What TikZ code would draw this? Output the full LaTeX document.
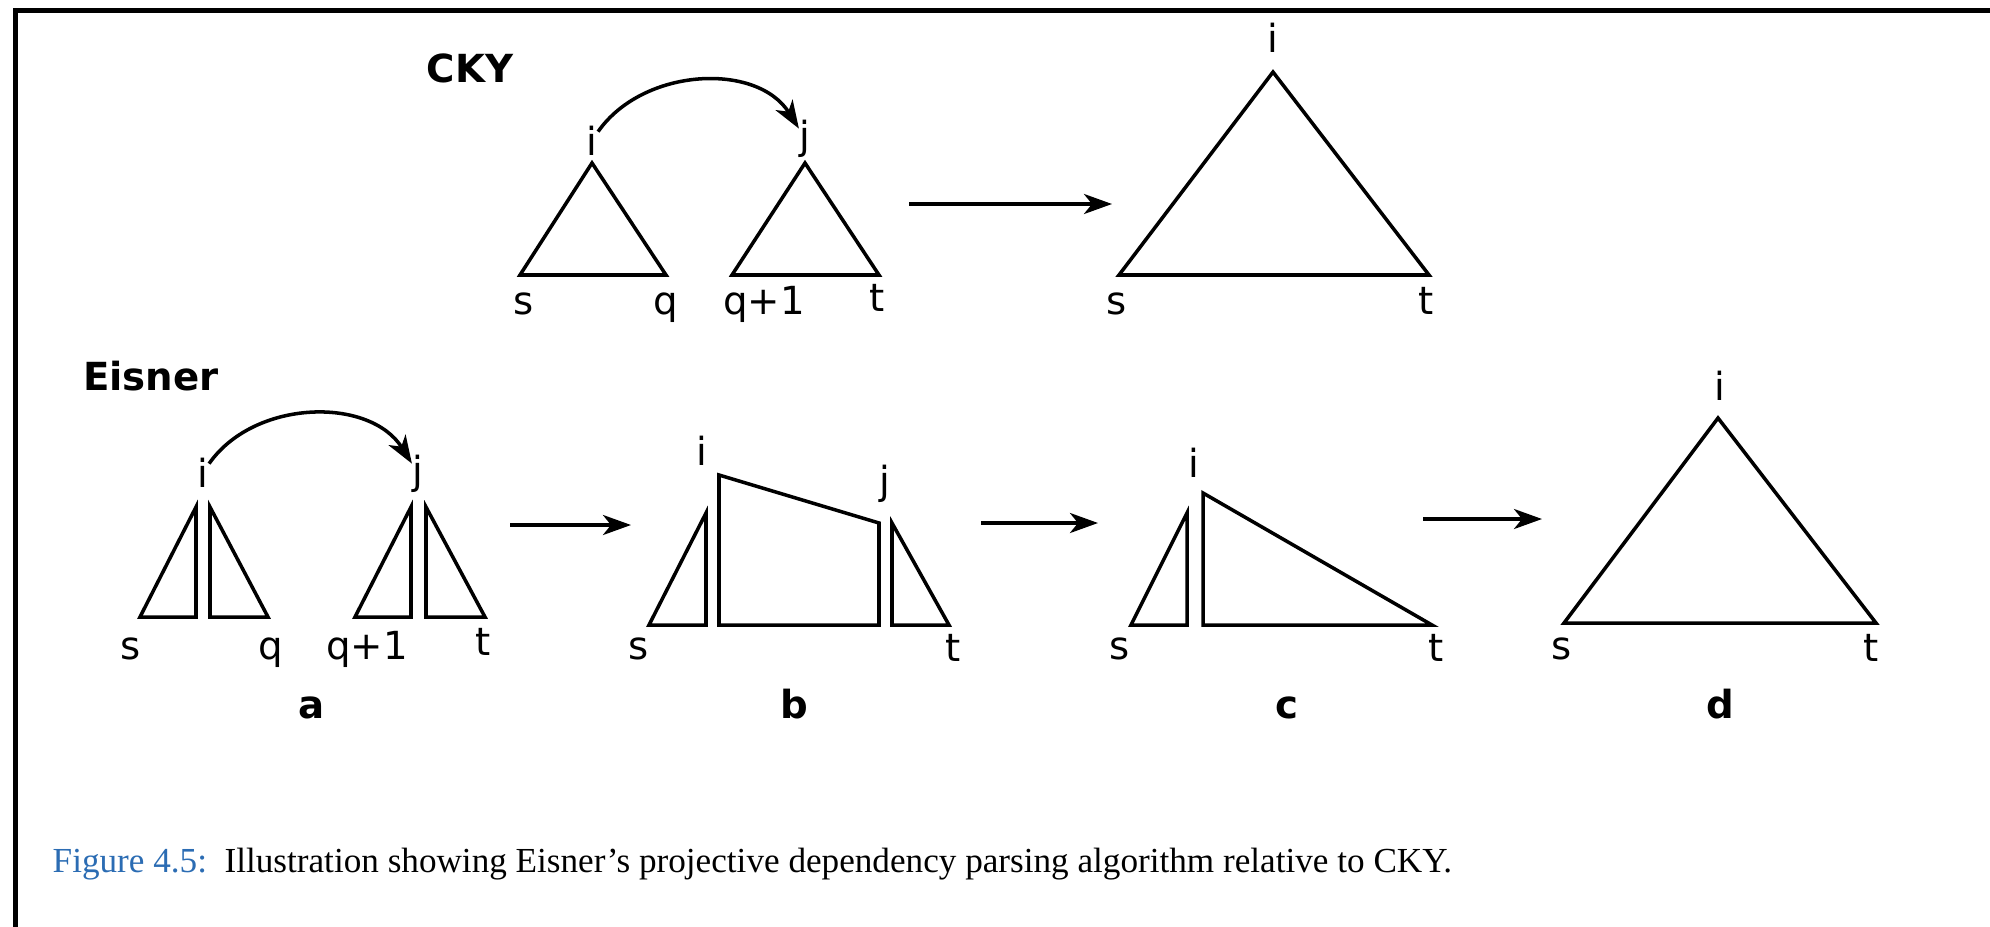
\documentclass[tikz,border=0pt]{standalone}
\usepackage{fontspec}
\setmainfont{Liberation Serif}
\newfontfamily\lblfont{DejaVu Sans}
\usepackage{xcolor}
\usetikzlibrary{arrows.meta,positioning}
\definecolor{capBlue}{HTML}{2B6CB3}

\begin{document}
\begin{tikzpicture}[x=0.01cm, y=-0.01cm,
  tri/.style={draw, line width=1pt, line join=miter},
  lbl/.style={font=\lblfont\fontsize{11}{13}\selectfont, inner sep=0pt, anchor=base},
  head/.style={font=\lblfont\bfseries\fontsize{11}{13}\selectfont, inner sep=0pt, anchor=base},
  arr/.style={-{Stealth[length=2.8mm,width=2mm,inset=0.8mm]}, line width=1pt}]
\useasboundingbox (0,0) rectangle (1990,927);
\draw[line width=0.05cm] (15.5,927) -- (15.5,10.5) -- (1990,10.5);
% CKY
\node[head] (cky) at (470,82) {CKY};
\draw[tri] (520,275) -- (592,163) -- (666,275) -- cycle;
\draw[tri] (732,275) -- (805,163) -- (879,275) -- cycle;
\draw[tri] (1119,275) -- (1273,72) -- (1429,275) -- cycle;
\node[lbl] (ckyI) at (592,155) {i};
\node[lbl] (ckyJ) at (805,149) {j};
\node[lbl] (ckyS) at (524,314) {s};
\node[lbl] (ckyQ) at (666,314) {q};
\node[lbl] (ckyQq) at (764,314) {q+1};
\node[lbl] (ckyT) at (877,311) {t};
\node[lbl] (topI) at (1273,52) {i};
\node[lbl] (topS) at (1117,314) {s};
\node[lbl] (topT) at (1426,314) {t};
\draw[arr] (ckyI) to[out=55, in=122] (ckyJ);
\coordinate (ckyL) at (909,204);
\coordinate (ckyR) at (1112,204);
% Eisner
\node[head] (eis) at (151,390) {Eisner};
\draw[tri] (140,617) -- (196,617) -- (196,507) -- cycle;
\draw[tri] (210,507) -- (210,617) -- (268,617) -- cycle;
\draw[tri] (355,617) -- (411,617) -- (411,507) -- cycle;
\draw[tri] (426,507) -- (426,617) -- (485,617) -- cycle;
\node[lbl] (aI) at (203,487) {i};
\node[lbl] (aJ) at (418,484) {j};
\node[lbl] (aS) at (131,659) {s};
\node[lbl] (aQ) at (271,659) {q};
\node[lbl] (aQq) at (367,659) {q+1};
\node[lbl] (aT) at (483,655) {t};
\node[head] (aTag) at (312,718) {a};
\draw[arr] (aI) to[out=55, in=122] (aJ);
\draw[tri] (649,625) -- (706,625) -- (706,513) -- cycle;
\draw[tri] (719,625) -- (719,475) -- (879,523) -- (879,625) -- cycle;
\draw[tri] (892,523) -- (892,625) -- (949,625) -- cycle;
\node[lbl] (bI) at (702,465) {i};
\node[lbl] (bJ) at (885,494) {j};
\node[lbl] (bS) at (639,659) {s};
\node[lbl] (bT) at (953,661) {t};
\node[head] (bTag) at (794,718) {b};
\draw[tri] (1131,625) -- (1187,625) -- (1187,513) -- cycle;
\draw[tri] (1203,493) -- (1203,625) -- (1432,625) -- cycle;
\node[lbl] (cI) at (1194,477) {i};
\node[lbl] (cS) at (1120,659) {s};
\node[lbl] (cT) at (1436,661) {t};
\node[head] (cTag) at (1287,718) {c};
\draw[tri] (1564,623) -- (1718,418) -- (1876,623) -- cycle;
\node[lbl] (dI) at (1720,400) {i};
\node[lbl] (dS) at (1562,659) {s};
\node[lbl] (dT) at (1871,661) {t};
\node[head] (dTag) at (1720,718) {d};
\coordinate (abL) at (510,525);
\coordinate (abR) at (631,525);
\coordinate (bcL) at (981,523);
\coordinate (bcR) at (1098,523);
\coordinate (cdL) at (1423,519);
\coordinate (cdR) at (1542,519);
\foreach \a/\b in {ckyL/ckyR,abL/abR,bcL/bcR,cdL/cdR}\draw[arr](\a)--(\b);
\node[anchor=base west, inner sep=0pt, font=\fontsize{10}{12}\selectfont] (cap) at (52,872)
  {\textcolor{capBlue}{Figure 4.5:}\enspace Illustration showing Eisner’s projective dependency parsing algorithm relative to CKY.};
\end{tikzpicture}
\end{document}
